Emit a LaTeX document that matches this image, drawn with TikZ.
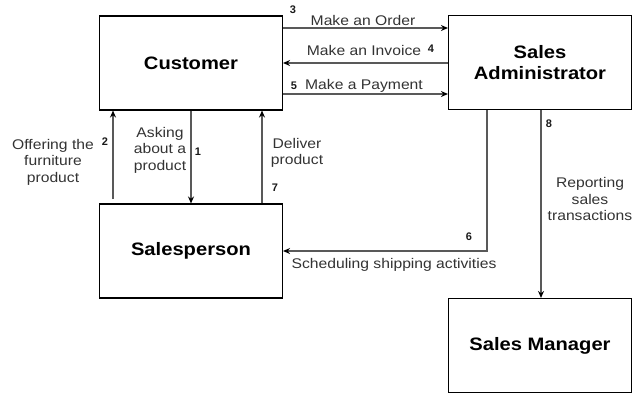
\documentclass[tikz,border=0pt]{standalone}
\usepackage{fontspec}
\setmainfont{Liberation Sans}
\newfontfamily\labfont[FakeStretch=1.12]{Liberation Sans}
\newfontfamily\boxfont[FakeStretch=1.12]{Liberation Sans}
\usetikzlibrary{arrows.meta}
\begin{document}
\begin{tikzpicture}[x=1pt,y=-1pt,
  entity/.style={draw=black,line width=1.1pt,minimum width=183pt,minimum height=94pt,inner sep=0pt,
    font=\boxfont\fontsize{18}{21}\selectfont\bfseries,align=center,text=black},
  arr/.style={draw=black!65,line width=1.1pt,-{Stealth[length=7pt,width=6pt,black]}},
  lab/.style={font=\labfont\fontsize{14}{16.5}\selectfont,text=black!80,align=center,inner sep=0pt},
  num/.style={font=\fontsize{11}{12}\selectfont\bfseries,text=black!90,inner sep=0pt}]
\useasboundingbox (0,0) rectangle (633,394);
\node[entity] (cust) at (191,63) {Customer};
\node[entity] (admin) at (540,62.5) {Sales\\Administrator};
\node[entity] (sp) at (191,251) {Salesperson};
\node[entity] (mgr) at (540,345.5) {Sales Manager};
% 3
\draw[arr] (cust.east |- 0,28) -- (admin.west |- 0,28);
\node[lab] (l3) at (363,20) {Make an Order};
\node[num] (n3) at (293,10) {3};
% 4
\draw[arr] (admin.west |- 0,63) -- (cust.east |- 0,63);
\node[lab] (l4) at (364,50) {Make an Invoice};
\node[num] (n4) at (431,49) {4};
% 5
\draw[arr] (cust.east |- 0,94) -- (admin.west |- 0,94);
\node[lab] (l5) at (364,86) {Make a Payment};
\node[num] (n5) at (294,86) {5};
% 2
\coordinate (s2) at (113,199);
\draw[arr] (s2) -- (s2 |- cust.south);
\node[lab] (l2) at (53,162) {Offering the\\furniture\\product};
\node[num] (n2) at (105,142) {2};
% 1
\draw[arr] (cust.south -| 191,0) -- (sp.north -| 191,0);
\node[lab] (l1) at (160,150) {Asking\\about a\\product};
\node[num] (n1) at (198,152) {1};
% 7
\draw[arr] (sp.north -| 262,0) -- (cust.south -| 262,0);
\node[lab] (l7) at (297,153) {Deliver\\product};
\node[num] (n7) at (275,188) {7};
% 6
\coordinate (c6) at (487,251);
\draw[arr] (admin.south -| c6) -- (c6) -- (sp.east |- c6);
\node[num] (n6) at (469,237) {6};
\node[lab] (l6) at (394,265) {Scheduling shipping activities};
% 8
\draw[arr] (admin.south -| 541,0) -- (mgr.north -| 541,0);
\node[num] (n8) at (549,124) {8};
\node[lab] (l8) at (590,199) {Reporting\\sales\\transactions};
\end{tikzpicture}
\end{document}
